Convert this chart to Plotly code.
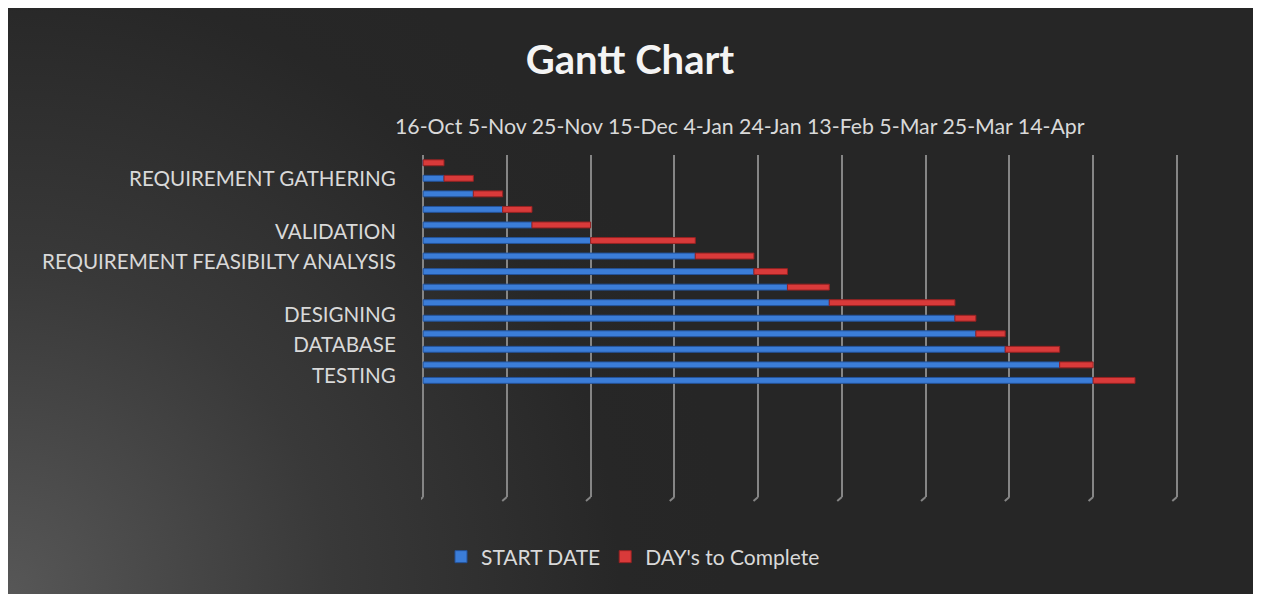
import base64
from datetime import datetime, timedelta
import plotly.graph_objects as go

# ---------------- data ----------------
axis_start = "2022-10-16"
axis_end = "2023-04-14"
x_tick_labels = ["16-Oct", "5-Nov", "25-Nov", "15-Dec", "4-Jan",
                 "24-Jan", "13-Feb", "5-Mar", "25-Mar", "14-Apr"]
start_dates = ["2022-10-16", "2022-10-21", "2022-10-28", "2022-11-04", "2022-11-11",
               "2022-11-25", "2022-12-20", "2023-01-03", "2023-01-11", "2023-01-21",
               "2023-02-20", "2023-02-25", "2023-03-04", "2023-03-17", "2023-03-25"]
start_offset_days = [0, 5, 12, 19, 26, 40, 65, 79, 87, 97, 127, 132, 139, 152, 160]
days_to_complete = [5, 7, 7, 7, 14, 25, 14, 8, 10, 30, 5, 7, 13, 8, 10]
y_labels = ["REQUIREMENT GATHERING", "VALIDATION", "REQUIREMENT FEASIBILTY ANALYSIS",
            "DESIGNING", "DATABASE", "TESTING"]
y_label_rows = [1, 4.43, 6.4, 9.78, 11.71, 13.68]

DAY_MS = 86400000
rows = list(range(len(start_dates)))

# ---------------- layout geometry ----------------
W, H = 1250, 586
L, R, T, B = 413, 79, 147, 97
PW, PH = W - L - R, H - T - B
n_slots = 22

FONT = "Lato"
TXT = "#d9d9d9"

t0 = datetime.fromisoformat(axis_start)
t1 = datetime.fromisoformat(axis_end)
pad = timedelta(hours=12)
x_range = [(t0 - pad).isoformat(), (t1 + pad).isoformat()]

fig = go.Figure()
fig.add_trace(go.Bar(
    name="START DATE", orientation="h", y=rows,
    x=[d * DAY_MS for d in start_offset_days],
    base=[axis_start] * len(rows),
    width=0.38,
    marker=dict(color="#3b7dd8", line=dict(color="#24539a", width=1)),
))
fig.add_trace(go.Bar(
    name="DAY's to Complete", orientation="h", y=rows,
    x=[d * DAY_MS for d in days_to_complete],
    base=start_dates,
    width=0.38,
    marker=dict(color="#d93a3a", line=dict(color="#962222", width=1)),
))

# radial background gradient (lighter bottom-left)
svg = (f'<svg xmlns="http://www.w3.org/2000/svg" width="{W}" height="{H}">'
       f'<defs><radialGradient id="g" gradientUnits="userSpaceOnUse" cx="0" cy="{H}" r="720">'
       '<stop offset="0" stop-color="#575757"/>'
       '<stop offset="0.45" stop-color="#393939"/>'
       '<stop offset="0.85" stop-color="#272727"/>'
       '<stop offset="1" stop-color="#262626"/>'
       '</radialGradient></defs>'
       f'<rect width="{W}" height="{H}" fill="url(#g)"/></svg>')
bg_src = "data:image/svg+xml;base64," + base64.b64encode(svg.encode()).decode()

# small slanted "feet" at the bottom of each gridline (3-D look)
feet = []
for i in range(len(x_tick_labels)):
    gx = t0 + timedelta(days=20 * i)
    feet.append(dict(type="line", xref="x", yref="paper",
                     x0=gx.isoformat(), y0=0,
                     x1=(gx - timedelta(days=1.1)).isoformat(), y1=-4 / PH,
                     line=dict(color="#858585", width=2), layer="below"))

fig.update_layout(
    width=W, height=H,
    margin=dict(l=L, r=R, t=T, b=B),
    paper_bgcolor="#262626",
    plot_bgcolor="rgba(0,0,0,0)",
    barmode="overlay",
    font=dict(family=FONT, color=TXT, size=20),
    title=dict(text="Gantt Chart", x=622 / W, xref="container", xanchor="center",
               y=1 - 52 / H, yref="container", yanchor="middle",
               font=dict(family=FONT, size=40, color="#f4f4f4", weight="bold")),
    xaxis=dict(type="date", range=x_range, side="top",
               tick0=axis_start, dtick=20 * DAY_MS,
               showgrid=True, gridcolor="#858585", gridwidth=2,
               showticklabels=False, zeroline=False, showline=False, fixedrange=True),
    yaxis=dict(range=[n_slots - 0.5, -0.5], tickmode="array",
               tickvals=y_label_rows, ticktext=y_labels,
               ticks="outside", ticklen=20, tickcolor="rgba(0,0,0,0)",
               showgrid=False, zeroline=False, showline=False,
               tickfont=dict(size=20.6, color=TXT)),
    legend=dict(orientation="h", x=(625 - L) / PW, xanchor="center",
                y=(PH - (549 - T)) / PH, yanchor="middle", itemwidth=30,
                font=dict(size=21, color=TXT), bgcolor="rgba(0,0,0,0)",
                traceorder="normal"),
    showlegend=True,
    shapes=feet,
    images=[dict(source=bg_src, xref="paper", yref="paper",
                 x=-L / PW, y=1 + T / PH, sizex=W / PW, sizey=H / PH,
                 xanchor="left", yanchor="top", sizing="stretch", layer="below")],
)

# date label row along the top
fig.add_annotation(text=" ".join(x_tick_labels), xref="paper", yref="paper",
                   x=(385 - L) / PW, y=(PH - (118 - T)) / PH, xanchor="left",
                   yanchor="middle", showarrow=False,
                   font=dict(family=FONT, size=21.3, color=TXT))

fig.write_html("out.html")
